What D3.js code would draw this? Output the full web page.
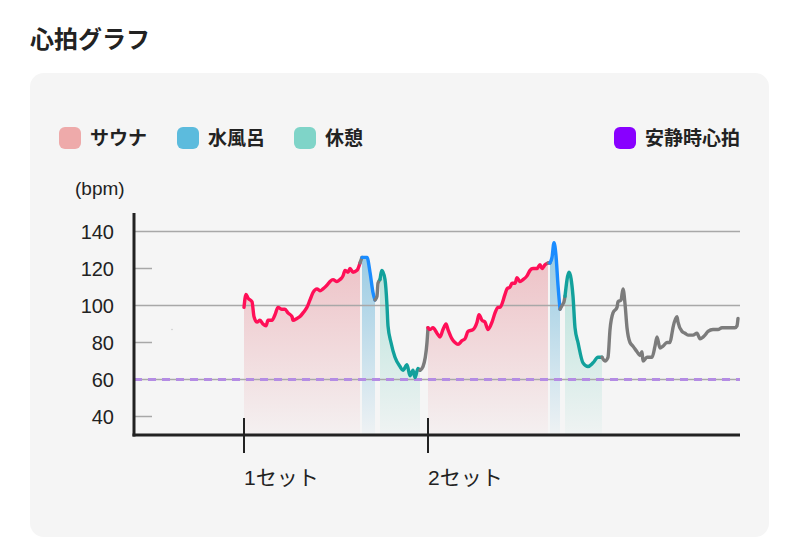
<!DOCTYPE html>
<html>
<head>
<meta charset="utf-8">
<script src="https://cdn.jsdelivr.net/npm/d3@7"></script>
<style>
  html, body { margin: 0; padding: 0; background: #ffffff; }
  svg { display: block; }
</style>
</head>
<body>
<svg id="chart" width="800" height="543"></svg>
<script>
// ---------------- data ----------------
const title = "心拍グラフ";
const yUnit = "(bpm)";
const yTicks = [140, 120, 100, 80, 60, 40];
const yGridFull = [140, 100, 60];
const yGridShort = [120, 80, 40];
const restingBpm = 60;

const setTicks = [55, 147];
const setLabels = ["1セット", "2セット"];

const legendLabels = ["サウナ", "水風呂", "休憩", "安静時心拍"];

// time (arbitrary time units) and heart rate (bpm)
const time = [
  55,56,57,59,60,61.5,63,64.5,66,67,69,70.5,72,74,75.5,77,79,79.5,81.5,83,84.5,86.5,88,89.5,91.5,93,94.5,96.5,98,99.5,101.5,103,104.5,105.5,107,108,109.5,111.5,113,
  114,115,116.5,118,119.5,120.5,121.5,122,123,124,125.5,126.5,127,128.5,130.5,133,134.5,136.5,138,139.5,140.5,142,143,144.5,146.5,
  147,148,149.5,151.5,153,154.5,156,157,159,160.5,162,164,165.5,167,169.5,171.5,172.5,174,175.5,177,179,180.5,182,183,185.5,186.5,188,189,190.5,191.5,193,194.5,196.5,198,199.5,201.5,203,204,205.5,207,
  208,209,210,211,212,213,214,215,215.5,217.5,219.5,220.5,222,224.5,227,229.5,232,234,
  235.5,237,238,239.5,241.5,242,243.5,244.5,245.5,246.5,248,249.5,251.5,253,254,254.5,256.5,259,260.5,261.5,263,264.5,266.5,268,269,269.5,271.5,272,274,275.5,277,279.5,281.5,283,285.5,287,289.5,292,294,296.5,299,300.5,301.5,302
];
const bpm = [
  99,106,104,102,94,91,92,90,89,92,92,95,99,98,98,96,94,92,93,94,96,99,103,107,109,108,109,111,113,114,113,114,116,119,118,120,118,119,123,
  126,126,126,118,107,103,105,112,114,119,114,100,89,80,72,67,65,68,62,65,61,66,65,67,80,
  88,87,88,85,83,87,90,87,82,80,79,81,82,86,87,91,95,92,91,87,91,96,99,99,106,109,110,112,112,115,113,114,116,119,120,120,122,120,122,123,
  123,126,134,127,111,98,100,102,105,118,105,88,80,69,67,69,72,72,
  70,72,87,96,99,102,103,109,101,88,80,78,75,73,75,70,72,72,78,83,77,78,80,80,85,88,94,91,86,85,84,84,85,82,84,86,87,87,88,88,88,88,89,93
];

// isolated early reading
const strayTime = [19];
const strayBpm = [87];

// phases of the session
const phaseType  = ["sauna", "other", "water", "other", "rest", "other", "sauna", "other", "water", "other", "rest", "other"];
const phaseStart = [55,  113, 114,   120.5, 123, 143, 147, 207, 208, 213, 215.5, 234];
const phaseEnd   = [113, 114, 120.5, 123,   143, 147, 207, 208, 213, 215.5, 234, 302];

// ---------------- drawing ----------------
const svg = d3.select("#chart");
const jp = "'Noto Sans CJK JP', 'Noto Sans', sans-serif";
const num = "'Liberation Sans', 'Noto Sans CJK JP', sans-serif";

const lineColor = { sauna: "#ff0f57", water: "#1a8cff", rest: "#12a19c", other: "#7c7c7c" };
const fillColor = { sauna: "#e4838d", water: "#4fa9d4", rest: "#68c9b8" };
const legendColor = ["#eeaaaa", "#5cbbdd", "#7fd4c8", "#8800ff"];

svg.append("text").attr("x", 30).attr("y", 48)
  .attr("font-family", jp).attr("font-weight", 700).attr("font-size", 24)
  .attr("fill", "#222").text(title);

svg.append("rect").attr("x", 30).attr("y", 73).attr("width", 739).attr("height", 464)
  .attr("rx", 14).attr("fill", "#f5f5f5");

const x = d3.scaleLinear().domain([0, 303]).range([134, 740]);
const y = d3.scaleLinear().domain([30, 150]).range([435, 213]);

// gradients
const defs = svg.append("defs");
Object.keys(fillColor).forEach(k => {
  const g = defs.append("linearGradient").attr("id", "grad-" + k)
    .attr("gradientUnits", "userSpaceOnUse")
    .attr("x1", 0).attr("x2", 0).attr("y1", y(128)).attr("y2", y(30));
  g.append("stop").attr("offset", 0).attr("stop-color", fillColor[k]).attr("stop-opacity", k === "water" ? 0.55 : 0.46);
  g.append("stop").attr("offset", 1).attr("stop-color", fillColor[k]).attr("stop-opacity", 0.04);
});

const points = time.map((t, i) => ({ t, v: bpm[i] }));
const phases = phaseType.map((type, i) => ({
  type, pts: points.filter(p => p.t >= phaseStart[i] && p.t <= phaseEnd[i])
}));

const area = d3.area().x(d => x(d.t)).y0(y(30) - 1).y1(d => y(d.v)).curve(d3.curveMonotoneX);
const line = d3.line().x(d => x(d.t)).y(d => y(d.v)).curve(d3.curveMonotoneX);

// fills
svg.append("g").selectAll("path")
  .data(phases.filter(p => p.type !== "other"))
  .join("path")
  .attr("d", p => area(p.pts))
  .attr("fill", p => `url(#grad-${p.type})`);

// grid lines
svg.append("g").selectAll("line").data(yGridFull).join("line")
  .attr("x1", x(0)).attr("x2", x(303)).attr("y1", d => y(d)).attr("y2", d => y(d))
  .attr("stroke", "#a8a8a8").attr("stroke-width", 1.5);
svg.append("g").selectAll("line").data(yGridShort).join("line")
  .attr("x1", x(0)).attr("x2", x(0) + 18).attr("y1", d => y(d)).attr("y2", d => y(d))
  .attr("stroke", "#a8a8a8").attr("stroke-width", 1.5);

// resting heart rate
svg.append("line")
  .attr("x1", x(0)).attr("x2", x(303)).attr("y1", y(restingBpm)).attr("y2", y(restingBpm))
  .attr("stroke", "#b48ce4").attr("stroke-width", 3).attr("stroke-dasharray", "8,6");

// y tick labels
svg.append("g").selectAll("text").data(yTicks).join("text")
  .attr("x", 114).attr("y", d => y(d)).attr("dy", "0.36em")
  .attr("text-anchor", "end").attr("font-family", num).attr("font-size", 20)
  .attr("fill", "#222").text(d => d);

svg.append("text").attr("x", 75).attr("y", 195)
  .attr("font-family", num).attr("font-size", 19).attr("fill", "#222").text(yUnit);

// axes
svg.append("line").attr("x1", x(0)).attr("x2", x(0)).attr("y1", 213).attr("y2", y(30) + 1.5)
  .attr("stroke", "#222").attr("stroke-width", 3);
svg.append("line").attr("x1", x(0) - 1.5).attr("x2", x(303)).attr("y1", y(30)).attr("y2", y(30))
  .attr("stroke", "#222").attr("stroke-width", 3);

// set ticks
svg.append("g").selectAll("line").data(setTicks).join("line")
  .attr("x1", d => x(d)).attr("x2", d => x(d)).attr("y1", y(30) - 17).attr("y2", y(30) + 18)
  .attr("stroke", "#222").attr("stroke-width", 2);
svg.append("g").selectAll("text").data(setTicks).join("text")
  .attr("x", d => x(d)).attr("y", 485)
  .attr("font-family", num).attr("font-size", 21).attr("fill", "#222")
  .text((d, i) => setLabels[i]);

// lines
svg.append("g").selectAll("path")
  .data(phases)
  .join("path")
  .attr("d", p => line(p.pts))
  .attr("fill", "none")
  .attr("stroke", p => lineColor[p.type])
  .attr("stroke-width", 3.4)
  .attr("stroke-linejoin", "round")
  .attr("stroke-linecap", "round");

svg.append("g").selectAll("circle").data(strayTime).join("circle")
  .attr("cx", d => x(d)).attr("cy", (d, i) => y(strayBpm[i])).attr("r", 0.8)
  .attr("fill", "#cccccc");

// legend
const legendX = [59, 177, 294, 614];
const lg = svg.append("g").selectAll("g").data(legendLabels).join("g")
  .attr("transform", (d, i) => `translate(${legendX[i]},127)`);
lg.append("rect").attr("width", 22).attr("height", 22).attr("rx", 6)
  .attr("fill", (d, i) => legendColor[i]);
lg.append("text").attr("x", 31).attr("y", 11).attr("dy", "0.36em")
  .attr("font-family", jp).attr("font-weight", 700).attr("font-size", 19)
  .attr("fill", "#222").text(d => d);
</script>
</body>
</html>
